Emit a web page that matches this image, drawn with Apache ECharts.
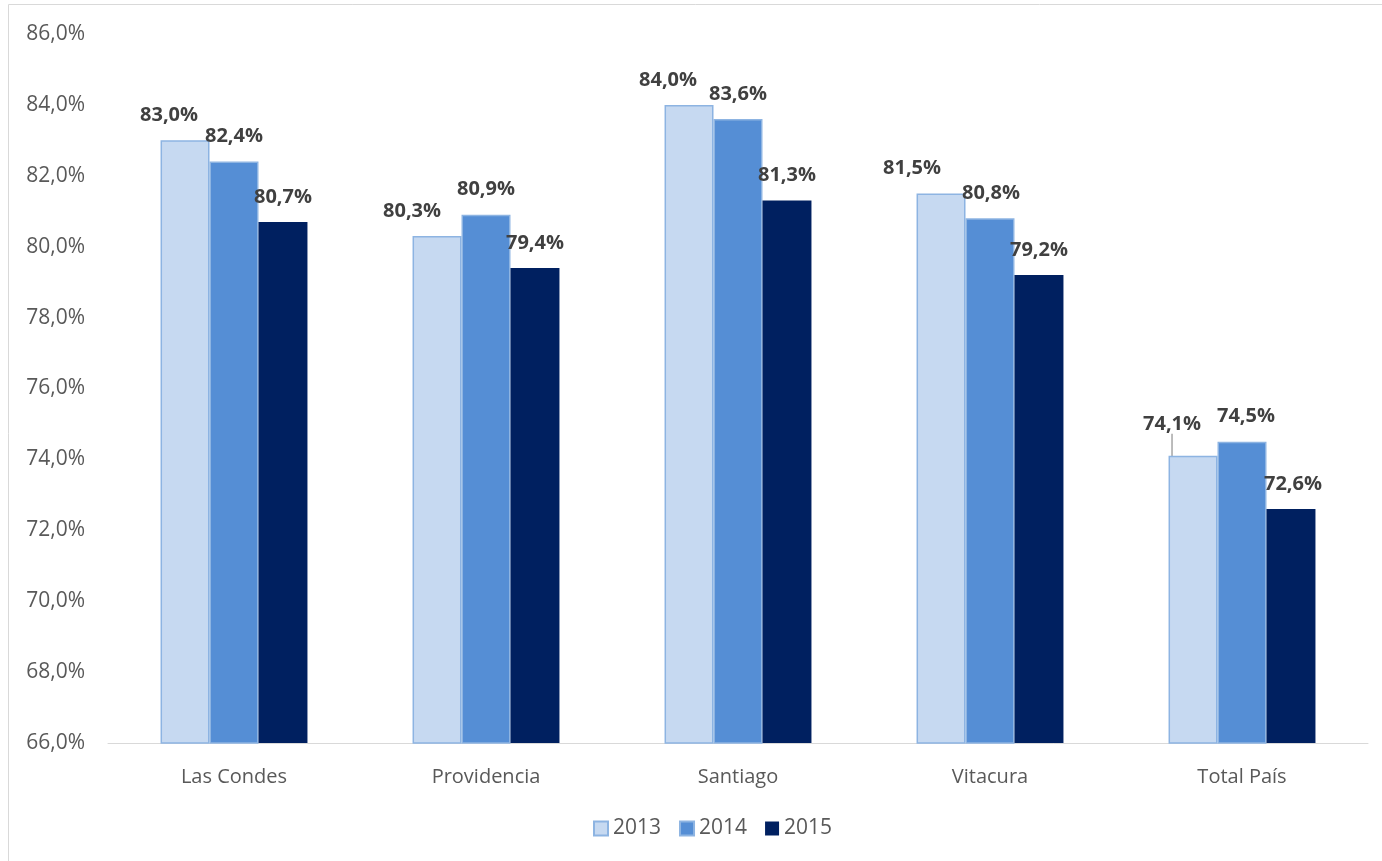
<!DOCTYPE html>
<html><head><meta charset="utf-8">
<script src="https://cdn.jsdelivr.net/npm/echarts@6/dist/echarts.min.js"></script>
<style>html,body{margin:0;padding:0;background:#fff}#c{width:1382px;height:861px}</style>
</head><body><div id="c"></div>
<script>
const categories = ['Las Condes', 'Providencia', 'Santiago', 'Vitacura', 'Total País'];
const years = ['2013', '2014', '2015'];
const v2013 = [83.0, 80.3, 84.0, 81.5, 74.1];
const v2014 = [82.4, 80.9, 83.6, 80.8, 74.5];
const v2015 = [80.7, 79.4, 81.3, 79.2, 72.6];
const yTicks = { min: 66, max: 86, interval: 2 };

// label displacement (Excel manual label positions)
const labelShift = [
  [[-16, 0], [-25, 0], [-21, 0], [-29, 0], [-21, -7]],
  [[0, 0], [0, 0], [0, 0], [1, 0], [4, 0]],
  [[0, 0], [0, 0], [0, 0], [0, 0], [2, 0]]
];
const fmt = v => v.toFixed(1).replace('.', ',') + '%';
const colors = ['#C6D9F1', '#558ED5', '#002060'];
const borders = ['#8DB4E2', '#8DB4E2', '#002060'];
const FONT = 'Open Sans';

const chart = echarts.init(document.getElementById('c'));
const seriesVals = [v2013, v2014, v2015];
chart.setOption({
  animation: false,
  textStyle: { fontFamily: FONT },
  graphic: [{ type: 'rect', shape: { x: 8.5, y: 4.5, width: 1400, height: 900 }, style: { fill: 'none', stroke: '#D9D9D9', lineWidth: 1 }, silent: true }],
  grid: { left: 108, right: 14, top: 34, bottom: 118 },
  legend: {
    bottom: 17, left: 588, itemWidth: 14, itemHeight: 14, itemGap: 18,
    icon: 'rect',
    textStyle: { fontSize: 21, color: '#595959', fontFamily: FONT },
    data: years
  },
  xAxis: {
    type: 'category', data: categories,
    axisLine: { lineStyle: { color: '#D9D9D9' } },
    axisTick: { show: false },
    axisLabel: { fontSize: 20, color: '#595959', margin: 24, fontFamily: FONT }
  },
  yAxis: {
    type: 'value', min: yTicks.min, max: yTicks.max, interval: yTicks.interval,
    splitLine: { show: false }, axisLine: { show: false }, axisTick: { show: false },
    axisLabel: { fontSize: 21, color: '#595959', margin: 23, fontFamily: FONT, formatter: v => v.toFixed(1).replace('.', ',') + '%' }
  },
  series: seriesVals.map((vals, si) => ({
    name: years[si], type: 'bar', barGap: '0%', barCategoryGap: '41.7%',
    itemStyle: { color: colors[si], borderColor: borders[si], borderWidth: si === 2 ? 0 : 1.5 },
    label: {
      show: true, position: 'top', distance: 15, fontSize: 20, fontWeight: 'bold', color: '#404040', fontFamily: FONT,
      formatter: p => fmt(p.value)
    },
    labelLayout: p => ({ dx: labelShift[si][p.dataIndex][0], dy: labelShift[si][p.dataIndex][1] }),
    labelLine: { show: false },
    data: vals.map((v, i) => (si === 0 && i === 4) ? { value: v, labelLine: { show: true, lineStyle: { color: '#A6A6A6', width: 1.5 } } } : v)
  }))
});
</script></body></html>
